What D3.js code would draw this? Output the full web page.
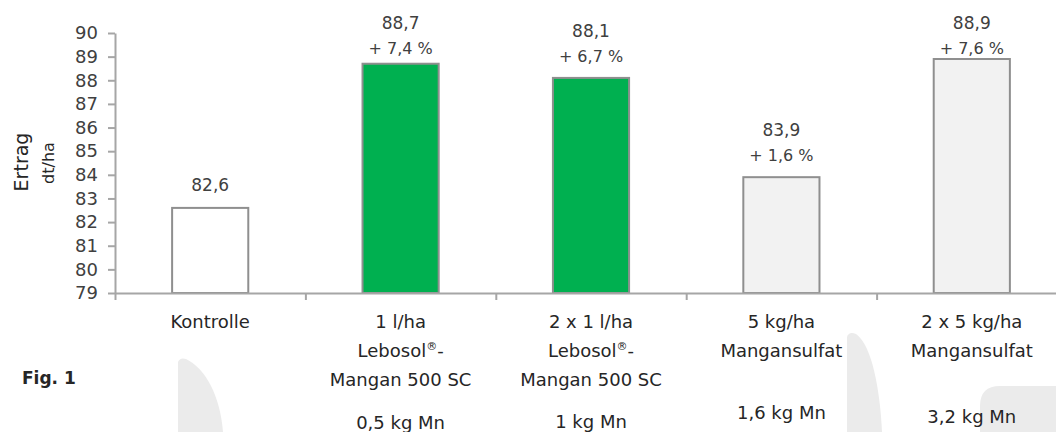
<!DOCTYPE html>
<html>
<head>
<meta charset="utf-8">
<script src="https://cdn.jsdelivr.net/npm/d3@7"></script>
<style>
  body { margin: 0; background: #fff; }
  text { font-family: "DejaVu Sans", sans-serif; }
</style>
</head>
<body>
<div id="chart"></div>
<script>
// Ertrag dt/ha je Variante
var kategorien = ["Kontrolle", "1 l/ha Lebosol", "2 x 1 l/ha Lebosol", "5 kg/ha Mangansulfat", "2 x 5 kg/ha Mangansulfat"];
var ertrag = [82.6, 88.7, 88.1, 83.9, 88.9];
var wertLabels = ["82,6", "88,7", "88,1", "83,9", "88,9"];
var mehrertrag = ["", "+ 7,4 %", "+ 6,7 %", "+ 1,6 %", "+ 7,6 %"];
var gruppe = ["kontrolle", "lebosol", "lebosol", "sulfat", "sulfat"];
var achsenLabels = [
    ["Kontrolle"],
    ["1 l/ha", "Lebosol®-", "Mangan 500 SC"],
    ["2 x 1 l/ha", "Lebosol®-", "Mangan 500 SC"],
    ["5 kg/ha", "Mangansulfat"],
    ["2 x 5 kg/ha", "Mangansulfat"]
];
var mnLabels = ["", "0,5 kg Mn", "1 kg Mn", "1,6 kg Mn", "3,2 kg Mn"];
var yTicks = [79, 80, 81, 82, 83, 84, 85, 86, 87, 88, 89, 90];

var W = 1056, H = 432;
var margin = { top: 33, left: 115, bottom: 139 };
var plotRight = 1067;
var mnY = [0, 429, 428, 419, 423]; // Textfelder sitzen nicht ganz auf einer Linie

var farben = { kontrolle: "#ffffff", lebosol: "#00b050", sulfat: "#f2f2f2" };

var svg = d3.select("#chart").append("svg").attr("width", W).attr("height", H);

// Wasserzeichen im Hintergrund
var wm = svg.append("g").attr("fill", "#ebebeb");
wm.append("path").attr("d", "M178,432 L178,362 Q180,357 186,359 C205,368 220,395 223,432 Z");
wm.append("path").attr("d", "M847,432 L847,337 Q849,331 856,334 C872,345 880,390 882,432 Z");
wm.append("path").attr("d", "M980,432 L980,406 Q980,386 1000,386 L1056,386 L1056,432 Z");

var yScale = d3.scaleLinear().domain([79, 90]).range([H - margin.bottom, margin.top]);
var y0 = yScale(79);

var xBand = d3.scaleBand().domain(d3.range(kategorien.length)).range([margin.left, plotRight]).paddingInner(0.6).paddingOuter(0.3);
var xEdge = d3.scaleLinear().domain([0, kategorien.length]).range([margin.left, plotRight]);
function mitte(i) { return xBand(i) + xBand.bandwidth() / 2; }

// Balken
svg.selectAll(".bar")
    .data(ertrag)
    .enter().append("rect")
    .attr("class", "bar")
    .attr("x", function (d, i) { return xBand(i); })
    .attr("y", function (d) { return yScale(d); })
    .attr("width", xBand.bandwidth())
    .attr("height", function (d) { return y0 - yScale(d); })
    .attr("fill", function (d, i) { return farben[gruppe[i]]; })
    .attr("stroke", "#8f8f8f")
    .attr("stroke-width", 2);

// Achsen
var yAxis = svg.append("g")
    .attr("transform", "translate(" + margin.left + ",0)")
    .call(d3.axisLeft(yScale).tickValues(yTicks).tickSize(7).tickSizeOuter(0).tickPadding(10));
yAxis.selectAll("text").attr("font-size", 18).attr("fill", "#404040").style("font-family", "DejaVu Sans");

var xAxis = svg.append("g")
    .attr("transform", "translate(0," + y0 + ")")
    .call(d3.axisBottom(xEdge).tickValues(d3.range(kategorien.length + 1)).tickFormat("").tickSize(7).tickSizeOuter(0));

svg.selectAll(".domain").attr("stroke", "#a6a6a6").attr("stroke-width", 2);
svg.selectAll(".tick line").attr("stroke", "#a6a6a6").attr("stroke-width", 2);

// Wertbeschriftung
svg.selectAll(".wert")
    .data(ertrag)
    .enter().append("text")
    .attr("class", "wert")
    .attr("x", function (d, i) { return mitte(i); })
    .attr("y", function (d, i) {
        if (mehrertrag[i] === "") return yScale(d) - 17;
        return Math.max(yScale(d) - 41, 29);
    })
    .attr("text-anchor", "middle")
    .attr("font-size", 17)
    .attr("fill", "#404040")
    .text(function (d, i) { return wertLabels[i]; });

svg.selectAll(".proz")
    .data(ertrag)
    .enter().append("text")
    .attr("class", "proz")
    .attr("x", function (d, i) { return mitte(i); })
    .attr("y", function (d) { return Math.max(yScale(d) - 16, 54); })
    .attr("text-anchor", "middle")
    .attr("font-size", 16)
    .attr("fill", "#404040")
    .text(function (d, i) { return mehrertrag[i]; });

// Kategorien, jede Zeile ein eigenes Textfeld, ® hochgestellt
achsenLabels.forEach(function (zeilen, i) {
    zeilen.forEach(function (z, j) {
        var t = svg.append("text")
            .attr("x", mitte(i))
            .attr("y", 328 + j * 29)
            .attr("text-anchor", "middle")
            .attr("font-size", 18)
            .attr("fill", "#262626");
        var teile = z.split("®");
        t.append("tspan").text(teile[0]);
        if (teile.length > 1) {
            t.append("tspan").attr("font-size", 11).attr("dy", -7).text("®");
            t.append("tspan").attr("dy", 7).text(teile[1]);
        }
    });
});

svg.selectAll(".mn")
    .data(mnLabels)
    .enter().append("text")
    .attr("class", "mn")
    .attr("x", function (d, i) { return mitte(i); })
    .attr("y", function (d, i) { return mnY[i]; })
    .attr("text-anchor", "middle")
    .attr("font-size", 18)
    .attr("fill", "#262626")
    .text(function (d) { return d; });

// Achsentitel
svg.append("text")
    .attr("transform", "translate(28,162) rotate(-90)")
    .attr("text-anchor", "middle")
    .attr("font-size", 19)
    .attr("fill", "#262626")
    .text("Ertrag");
svg.append("text")
    .attr("transform", "translate(54,163) rotate(-90)")
    .attr("text-anchor", "middle")
    .attr("font-size", 16)
    .attr("fill", "#262626")
    .text("dt/ha");

svg.append("text")
    .attr("x", 22)
    .attr("y", 384)
    .attr("font-size", 17)
    .attr("font-weight", "bold")
    .attr("fill", "#262626")
    .text("Fig. 1");
</script>
</body>
</html>
